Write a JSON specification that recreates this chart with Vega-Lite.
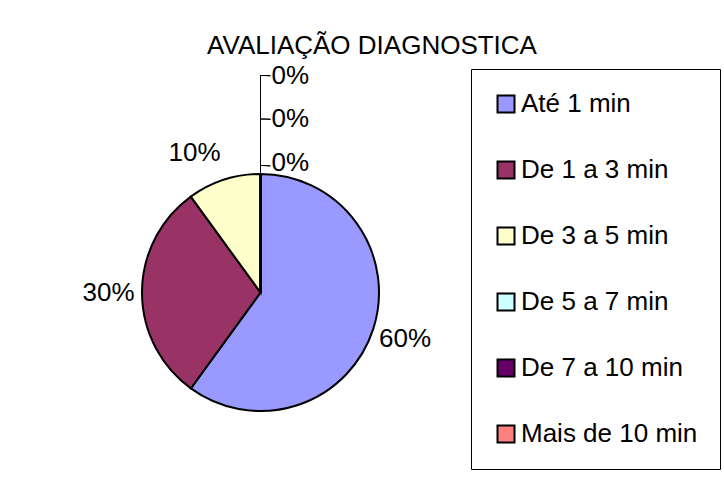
{
  "$schema": "https://vega.github.io/schema/vega-lite/v6.json",
  "width": 517,
  "height": 415,
  "autosize": {"type": "none"},
  "padding": {"left": 2, "top": 85, "right": 205, "bottom": 0},
  "background": "white",
  "title": {
    "text": "AVALIAÇÃO DIAGNOSTICA",
    "fontSize": 26,
    "font": "Liberation Sans",
    "fontWeight": "normal",
    "color": "black",
    "anchor": "middle",
    "frame": "group",
    "dx": 111.5,
    "dy": 48,
    "offset": 31,
    "baseline": "alphabetic"
  },
  "config": {"view": {"stroke": null}, "font": "Liberation Sans"},
  "data": {
    "values": [
      {"categoria": "Até 1 min", "valor": 0.6, "ordem": 1},
      {"categoria": "De 1 a 3 min", "valor": 0.3, "ordem": 2},
      {"categoria": "De 3 a 5 min", "valor": 0.1, "ordem": 3},
      {"categoria": "De 5 a 7 min", "valor": 0, "ordem": 4},
      {"categoria": "De 7 a 10 min", "valor": 0, "ordem": 5},
      {"categoria": "Mais de 10 min", "valor": 0, "ordem": 6}
    ]
  },
  "layer": [
    {
      "mark": {"type": "arc", "outerRadius": 118.5, "stroke": "black", "strokeWidth": 2},
      "encoding": {
        "theta": {"field": "valor", "type": "quantitative", "stack": true, "scale": {"domain": [0, 1]}},
        "order": {"field": "ordem", "type": "quantitative"},
        "color": {
          "field": "categoria",
          "type": "nominal",
          "scale": {
            "domain": ["Até 1 min", "De 1 a 3 min", "De 3 a 5 min", "De 5 a 7 min", "De 7 a 10 min", "Mais de 10 min"],
            "range": ["#9999FF", "#993366", "#FFFFCC", "#CCFFFF", "#660066", "#FF8080"]
          },
          "legend": {
            "title": null,
            "orient": "none",
            "legendX": 469,
            "legendY": -16,
            "direction": "vertical",
            "symbolType": "square",
            "symbolSize": 289,
            "symbolStrokeColor": "black",
            "symbolStrokeWidth": 2,
            "symbolOpacity": 1,
            "labelFontSize": 26,
            "labelFont": "Liberation Sans",
            "labelColor": "black",
            "labelOffset": 2,
            "labelLimit": 400,
            "rowPadding": 40,
            "padding": 22,
            "symbolOffset": 0,
            "strokeColor": "black",
            "fillColor": "white"
          }
        }
      }
    },
    {
      "mark": {"type": "text", "radius": 152, "fontSize": 26, "font": "Liberation Sans", "color": "black", "baseline": "middle"},
      "encoding": {
        "theta": {"field": "valor", "type": "quantitative", "stack": true},
        "order": {"field": "ordem", "type": "quantitative"},
        "text": {"condition": {"test": "datum.ordem <= 2", "field": "valor", "type": "quantitative", "format": ".0%"}, "value": ""}
      }
    },
    {
      "mark": {"type": "text", "radius": 152, "dx": -19, "dy": 5, "fontSize": 26, "font": "Liberation Sans", "color": "black", "baseline": "middle"},
      "encoding": {
        "theta": {"field": "valor", "type": "quantitative", "stack": true},
        "order": {"field": "ordem", "type": "quantitative"},
        "text": {"condition": {"test": "datum.ordem == 3", "field": "valor", "type": "quantitative", "format": ".0%"}, "value": ""}
      }
    },
    {
      "mark": {"type": "text", "radius": 129.5, "dx": 11, "align": "left", "fontSize": 26, "font": "Liberation Sans", "color": "black", "baseline": "middle"},
      "encoding": {
        "theta": {"field": "valor", "type": "quantitative", "stack": true},
        "order": {"field": "ordem", "type": "quantitative"},
        "text": {"condition": {"test": "datum.ordem == 4", "field": "valor", "type": "quantitative", "format": ".0%"}, "value": ""}
      }
    },
    {
      "mark": {"type": "text", "radius": 173.5, "dx": 11, "align": "left", "fontSize": 26, "font": "Liberation Sans", "color": "black", "baseline": "middle"},
      "encoding": {
        "theta": {"field": "valor", "type": "quantitative", "stack": true},
        "order": {"field": "ordem", "type": "quantitative"},
        "text": {"condition": {"test": "datum.ordem == 5", "field": "valor", "type": "quantitative", "format": ".0%"}, "value": ""}
      }
    },
    {
      "mark": {"type": "text", "radius": 216.5, "dx": 11, "align": "left", "fontSize": 26, "font": "Liberation Sans", "color": "black", "baseline": "middle"},
      "encoding": {
        "theta": {"field": "valor", "type": "quantitative", "stack": true},
        "order": {"field": "ordem", "type": "quantitative"},
        "text": {"condition": {"test": "datum.ordem == 6", "field": "valor", "type": "quantitative", "format": ".0%"}, "value": ""}
      }
    },
    {
      "transform": [{"filter": "datum.ordem == 1"}],
      "mark": {"type": "arc", "radius": 217, "radius2": 118.5, "filled": false, "stroke": "black", "strokeWidth": 1},
      "encoding": {"theta": {"datum": 0}, "theta2": {"datum": 0}}
    },
    {
      "transform": [{"filter": "datum.ordem == 1"}],
      "mark": {"type": "arc", "radius": 217, "radius2": 217, "filled": false, "stroke": "black", "strokeWidth": 1},
      "encoding": {"theta": {"datum": 0}, "theta2": {"datum": 0.0073}}
    },
    {
      "transform": [{"filter": "datum.ordem == 1"}],
      "mark": {"type": "arc", "radius": 173.5, "radius2": 173.5, "filled": false, "stroke": "black", "strokeWidth": 1},
      "encoding": {"theta": {"datum": 0}, "theta2": {"datum": 0.0092}}
    },
    {
      "transform": [{"filter": "datum.ordem == 1"}],
      "mark": {"type": "arc", "radius": 127, "radius2": 127, "filled": false, "stroke": "black", "strokeWidth": 1},
      "encoding": {"theta": {"datum": 0}, "theta2": {"datum": 0.0123}}
    }
  ]
}
